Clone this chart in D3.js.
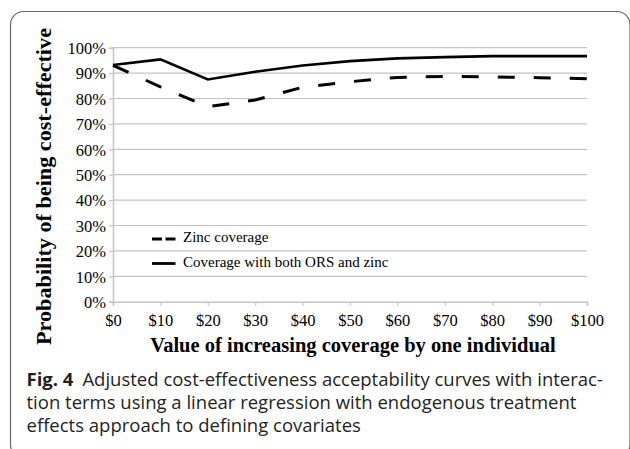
<!DOCTYPE html>
<html>
<head>
<meta charset="utf-8">
<script src="https://cdn.jsdelivr.net/npm/d3@7/dist/d3.min.js"></script>
<style>
  html, body { margin: 0; padding: 0; background: #fff; }
  svg { display: block; }
</style>
</head>
<body>
<div id="chart"></div>
<script>
// values
const thresholds = [0, 10, 20, 30, 40, 50, 60, 70, 80, 90, 100];
const zincCoverage = [0.93, 0.846, 0.768, 0.794, 0.844, 0.866, 0.883, 0.887, 0.885, 0.882, 0.878];
const bothCoverage = [0.932, 0.954, 0.875, 0.905, 0.93, 0.947, 0.958, 0.963, 0.967, 0.967, 0.967];
const yTicks = [0, 0.1, 0.2, 0.3, 0.4, 0.5, 0.6, 0.7, 0.8, 0.9, 1];
const seriesNames = ['Zinc coverage', 'Coverage with both ORS and zinc'];
const captionLines = [
  'Adjusted cost-effectiveness acceptability curves with interac-',
  'tion terms using a linear regression with endogenous treatment',
  'effects approach to defining covariates'
];

const W = 630, H = 449;
const plot = { left: 113, right: 587, top: 47.7, bottom: 301.7 };
const serif = '"Liberation Serif", "Times New Roman", serif';
const sans = '"Open Sans", "Noto Sans", sans-serif';
const gridColor = '#c4c4c4';

const svg = d3.select('#chart').append('svg')
  .attr('width', W).attr('height', H);

// rounded frame (right and bottom edges run off the picture)
svg.append('rect')
  .attr('x', 10.5).attr('y', 11.5)
  .attr('width', 619.5).attr('height', 446)
  .attr('rx', 13).attr('ry', 13)
  .attr('fill', 'none').attr('stroke', '#666').attr('stroke-width', 1.2);

const x = d3.scaleLinear().domain([0, 100]).range([plot.left, plot.right]);
const y = d3.scaleLinear().domain([0, 1]).range([plot.bottom, plot.top]);

// gridlines
svg.append('g')
  .selectAll('line')
  .data(yTicks.slice(1))
  .join('line')
  .attr('x1', plot.left).attr('x2', plot.right)
  .attr('y1', d => y(d)).attr('y2', d => y(d))
  .attr('stroke', gridColor).attr('stroke-width', 1.2);

// axes
const xAxis = svg.append('g')
  .attr('transform', `translate(0,${plot.bottom})`)
  .call(d3.axisBottom(x).tickValues(thresholds).tickSize(4).tickPadding(5)
    .tickFormat(d => '$' + d));
const yAxis = svg.append('g')
  .attr('transform', `translate(${plot.left},0)`)
  .call(d3.axisLeft(y).tickValues(yTicks).tickSize(4).tickPadding(3)
    .tickFormat(d3.format('.0%')));

[xAxis, yAxis].forEach(g => {
  g.attr('font-family', serif).attr('font-size', 16.5);
  g.select('.domain').attr('stroke', gridColor).attr('stroke-width', 1.5);
  g.selectAll('.tick line').attr('stroke', gridColor).attr('stroke-width', 1.2);
  g.selectAll('.tick text').attr('fill', '#000');
});
xAxis.selectAll('.tick text').attr('dy', '0.9em');
yAxis.selectAll('.tick text').attr('dy', '0.35em');

// series lines
const line = d3.line()
  .x((d, i) => x(thresholds[i]))
  .y(d => y(d));

svg.append('path')
  .datum(zincCoverage)
  .attr('d', line)
  .attr('fill', 'none').attr('stroke', '#000')
  .attr('stroke-width', 3)
  .attr('stroke-dasharray', '17,19');

svg.append('path')
  .datum(bothCoverage)
  .attr('d', line)
  .attr('fill', 'none').attr('stroke', '#000')
  .attr('stroke-width', 2.6)
  .attr('stroke-linejoin', 'miter');

// legend
const legend = svg.append('g');
const legendRows = [
  { name: seriesNames[0], y: 239, dash: '10,3.5' },
  { name: seriesNames[1], y: 263.5, dash: null }
];
legendRows.forEach(r => {
  legend.append('line')
    .attr('x1', 152).attr('x2', 175.5)
    .attr('y1', r.y).attr('y2', r.y)
    .attr('stroke', '#000').attr('stroke-width', 2.8)
    .attr('stroke-dasharray', r.dash);
  legend.append('text')
    .attr('x', 183).attr('y', r.y + 3)
    .attr('font-family', serif).attr('font-size', 15)
    .text(r.name);
});

// axis titles
svg.append('text')
  .attr('x', (plot.left + plot.right) / 2 + 3)
  .attr('y', 352)
  .attr('text-anchor', 'middle')
  .attr('font-family', serif).attr('font-weight', 'bold').attr('font-size', 20.5)
  .text('Value of increasing coverage by one individual');

svg.append('text')
  .attr('transform', 'translate(51,186.5) rotate(-90)')
  .attr('text-anchor', 'middle')
  .attr('font-family', serif).attr('font-weight', 'bold').attr('font-size', 20)
  .attr('textLength', 317).attr('lengthAdjust', 'spacingAndGlyphs')
  .text('Probability of being cost-effective');

// caption
const cap = svg.append('g').attr('font-family', sans).attr('fill', '#231f20');
captionLines.forEach((t, i) => {
  const tx = cap.append('text')
    .attr('x', 26.5).attr('y', 386 + i * 23)
    .attr('font-size', 18.5);
  if (i === 0) {
    tx.append('tspan').attr('font-weight', 'bold').text('Fig. 4');
    tx.append('tspan').attr('dx', 9).text(t);
  } else {
    tx.text(t);
  }
});
</script>
</body>
</html>
